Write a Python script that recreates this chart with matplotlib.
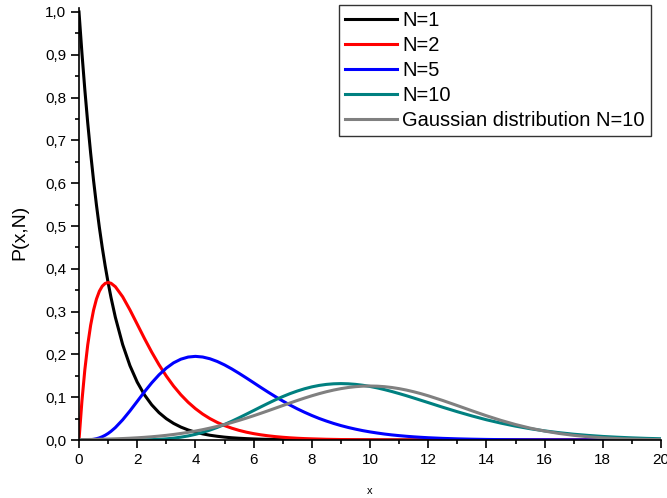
import matplotlib
matplotlib.use("Agg")
import matplotlib.pyplot as plt
from matplotlib.ticker import MultipleLocator, FuncFormatter

plt.rcParams['font.family'] = ['Liberation Sans', 'DejaVu Sans']

x_vals = [0, 0.1, 0.2, 0.3, 0.4, 0.5, 0.6, 0.7, 0.8, 0.9, 1.0,
          1.1, 1.25, 1.5, 1.75, 2.0, 2.25, 2.5, 2.75, 3.0, 3.25, 3.5, 3.75, 4.0,
          4.25, 4.5, 4.75, 5.0, 5.25, 5.5, 5.75, 6.0, 6.25, 6.5, 6.75, 7.0,
          7.25, 7.5, 7.75, 8.0, 8.25, 8.5, 8.75, 9.0, 9.25, 9.5, 9.75, 10.0,
          10.25, 10.5, 10.75, 11.0, 11.25, 11.5, 11.75, 12.0,
          12.5, 13.0, 13.5, 14.0, 14.5, 15.0, 15.5, 16.0, 16.5, 17.0, 17.5,
          18.0, 18.5, 19.0, 19.5, 20.0]

n1 = [1.0, 0.9048, 0.8187, 0.7408, 0.6703, 0.6065, 0.5488, 0.4966, 0.4493, 0.4066, 0.3679,
      0.3329, 0.2865, 0.2231, 0.1738, 0.1353, 0.1054, 0.0821, 0.0639, 0.0498, 0.0388, 0.0302,
      0.0235, 0.0183, 0.0143, 0.0111, 0.0087, 0.0067, 0.0052, 0.0041, 0.0032, 0.0025,
      0.0019, 0.0015, 0.0012, 0.0009, 0.0007, 0.0006, 0.0004, 0.0003, 0.0003, 0.0002,
      0.0002, 0.0001, 0.0001, 0.0001, 0.0001, 0.0,
      0.0, 0.0, 0.0, 0.0, 0.0, 0.0, 0.0, 0.0,
      0.0, 0.0, 0.0, 0.0, 0.0, 0.0, 0.0, 0.0, 0.0, 0.0, 0.0, 0.0, 0.0, 0.0, 0.0, 0.0]

n2 = [0.0, 0.0905, 0.1637, 0.2222, 0.2681, 0.3033, 0.3293, 0.3476, 0.3595, 0.3659, 0.3679,
      0.3662, 0.3581, 0.3347, 0.3041, 0.2707, 0.2371, 0.2052, 0.1758, 0.1494, 0.1260, 0.1057,
      0.0882, 0.0733, 0.0606, 0.0500, 0.0411, 0.0337, 0.0276, 0.0225, 0.0183, 0.0149,
      0.0121, 0.0098, 0.0079, 0.0064, 0.0051, 0.0041, 0.0033, 0.0027, 0.0022, 0.0017,
      0.0014, 0.0011, 0.0009, 0.0007, 0.0006, 0.0005,
      0.0004, 0.0003, 0.0002, 0.0002, 0.0001, 0.0001, 0.0001, 0.0001,
      0.0, 0.0, 0.0, 0.0, 0.0, 0.0, 0.0, 0.0, 0.0, 0.0, 0.0, 0.0, 0.0, 0.0, 0.0, 0.0]

n5 = [0.0, 0.0, 0.0001, 0.0003, 0.0007, 0.0016, 0.0030, 0.0050, 0.0077, 0.0111, 0.0153,
      0.0203, 0.0291, 0.0471, 0.0679, 0.0902, 0.1126, 0.1336, 0.1523, 0.1680, 0.1803, 0.1888,
      0.1938, 0.1954, 0.1939, 0.1898, 0.1835, 0.1755, 0.1661, 0.1558, 0.1450, 0.1339,
      0.1227, 0.1118, 0.1013, 0.0912, 0.0817, 0.0729, 0.0648, 0.0573, 0.0504, 0.0443,
      0.0387, 0.0337, 0.0293, 0.0254, 0.0219, 0.0189,
      0.0163, 0.0139, 0.0119, 0.0102, 0.0087, 0.0074, 0.0063, 0.0053,
      0.0038, 0.0027, 0.0019, 0.0013, 0.0009, 0.0006, 0.0004, 0.0003, 0.0002, 0.0001,
      0.0001, 0.0001, 0.0, 0.0, 0.0, 0.0]

n10 = [0.0, 0.0, 0.0, 0.0, 0.0, 0.0, 0.0, 0.0, 0.0, 0.0, 0.0,
       0.0, 0.0, 0.0, 0.0001, 0.0002, 0.0004, 0.0009, 0.0016, 0.0027, 0.0043, 0.0066,
       0.0095, 0.0132, 0.0178, 0.0232, 0.0294, 0.0363, 0.0438, 0.0519, 0.0603, 0.0688,
       0.0774, 0.0858, 0.0939, 0.1014, 0.1083, 0.1144, 0.1197, 0.1241, 0.1275, 0.1299,
       0.1313, 0.1318, 0.1313, 0.1300, 0.1279, 0.1251,
       0.1217, 0.1177, 0.1133, 0.1085, 0.1035, 0.0982, 0.0928, 0.0874,
       0.0765, 0.0661, 0.0563, 0.0473, 0.0394, 0.0324, 0.0264, 0.0213, 0.0171, 0.0135,
       0.0107, 0.0083, 0.0065, 0.0050, 0.0038, 0.0029]

gauss10 = [0.00085, 0.00094, 0.00104, 0.00114, 0.00126, 0.00138, 0.00152, 0.00167, 0.00183,
           0.00201, 0.00220,
           0.00240, 0.00274, 0.00340, 0.00420, 0.00514, 0.00626, 0.00758, 0.00911, 0.01089,
           0.01293, 0.01526, 0.01789, 0.02085, 0.02415, 0.02780, 0.03180, 0.03615, 0.04083,
           0.04584, 0.05114, 0.05669, 0.06245, 0.06838, 0.07440, 0.08044, 0.08644, 0.09230,
           0.09795, 0.10329, 0.10825, 0.11274, 0.11668, 0.12001, 0.12266, 0.12459, 0.12577,
           0.12616,
           0.12577, 0.12459, 0.12266, 0.12001, 0.11668, 0.11274, 0.10825, 0.10329,
           0.09230, 0.08044, 0.06838, 0.05669, 0.04584, 0.03615, 0.02780, 0.02085, 0.01526,
           0.01089, 0.00758, 0.00514, 0.00340, 0.00220, 0.00138, 0.00085]

labels = ["N=1", "N=2", "N=5", "N=10", "Gaussian distribution N=10"]
colors = ["#000000", "#ff0000", "#0000ff", "#008080", "#808080"]

fig = plt.figure(figsize=(6.67, 4.98), dpi=100)
ax = fig.add_axes([79/667, 1-440/498, (661-79)/667, (440-8)/498])

for y, lab, c in zip([n1, n2, n5, n10, gauss10], labels, colors):
    ax.plot(x_vals, y, color=c, lw=2.2, label=lab, solid_joinstyle='round')

ax.set_xlim(0, 20)
ax.set_ylim(0, 1.0 * 432 / 428)
for s in ['top', 'right']:
    ax.spines[s].set_visible(False)
for s in ['left', 'bottom']:
    ax.spines[s].set_linewidth(1.2)

ax.xaxis.set_major_locator(MultipleLocator(2))
ax.xaxis.set_minor_locator(MultipleLocator(1))
ax.yaxis.set_minor_locator(MultipleLocator(0.05))
ax.set_yticks([i / 10 for i in range(11)])
ax.yaxis.set_major_formatter(FuncFormatter(lambda v, p: f"{v:.1f}".replace(".", ",")))
ax.tick_params(which='major', direction='out', length=6, width=1.2, labelsize=11, pad=3)
ax.tick_params(which='minor', direction='out', length=3, width=1.2)

ax.set_xlabel("x", fontsize=8, labelpad=14)
ax.set_ylabel("P(x,N)", fontsize=14)
ax.yaxis.set_label_coords(-0.087, 0.48)

leg = ax.legend(loc='upper right', bbox_to_anchor=(651/667, 1-5/498),
                bbox_transform=fig.transFigure, fontsize=14.5, frameon=True,
                fancybox=False, edgecolor='black', handlelength=2.6,
                handletextpad=0.25, labelspacing=0.3, borderpad=0.3,
                borderaxespad=0)
leg.get_frame().set_linewidth(1.0)

fig.savefig("out.png", dpi=100)
